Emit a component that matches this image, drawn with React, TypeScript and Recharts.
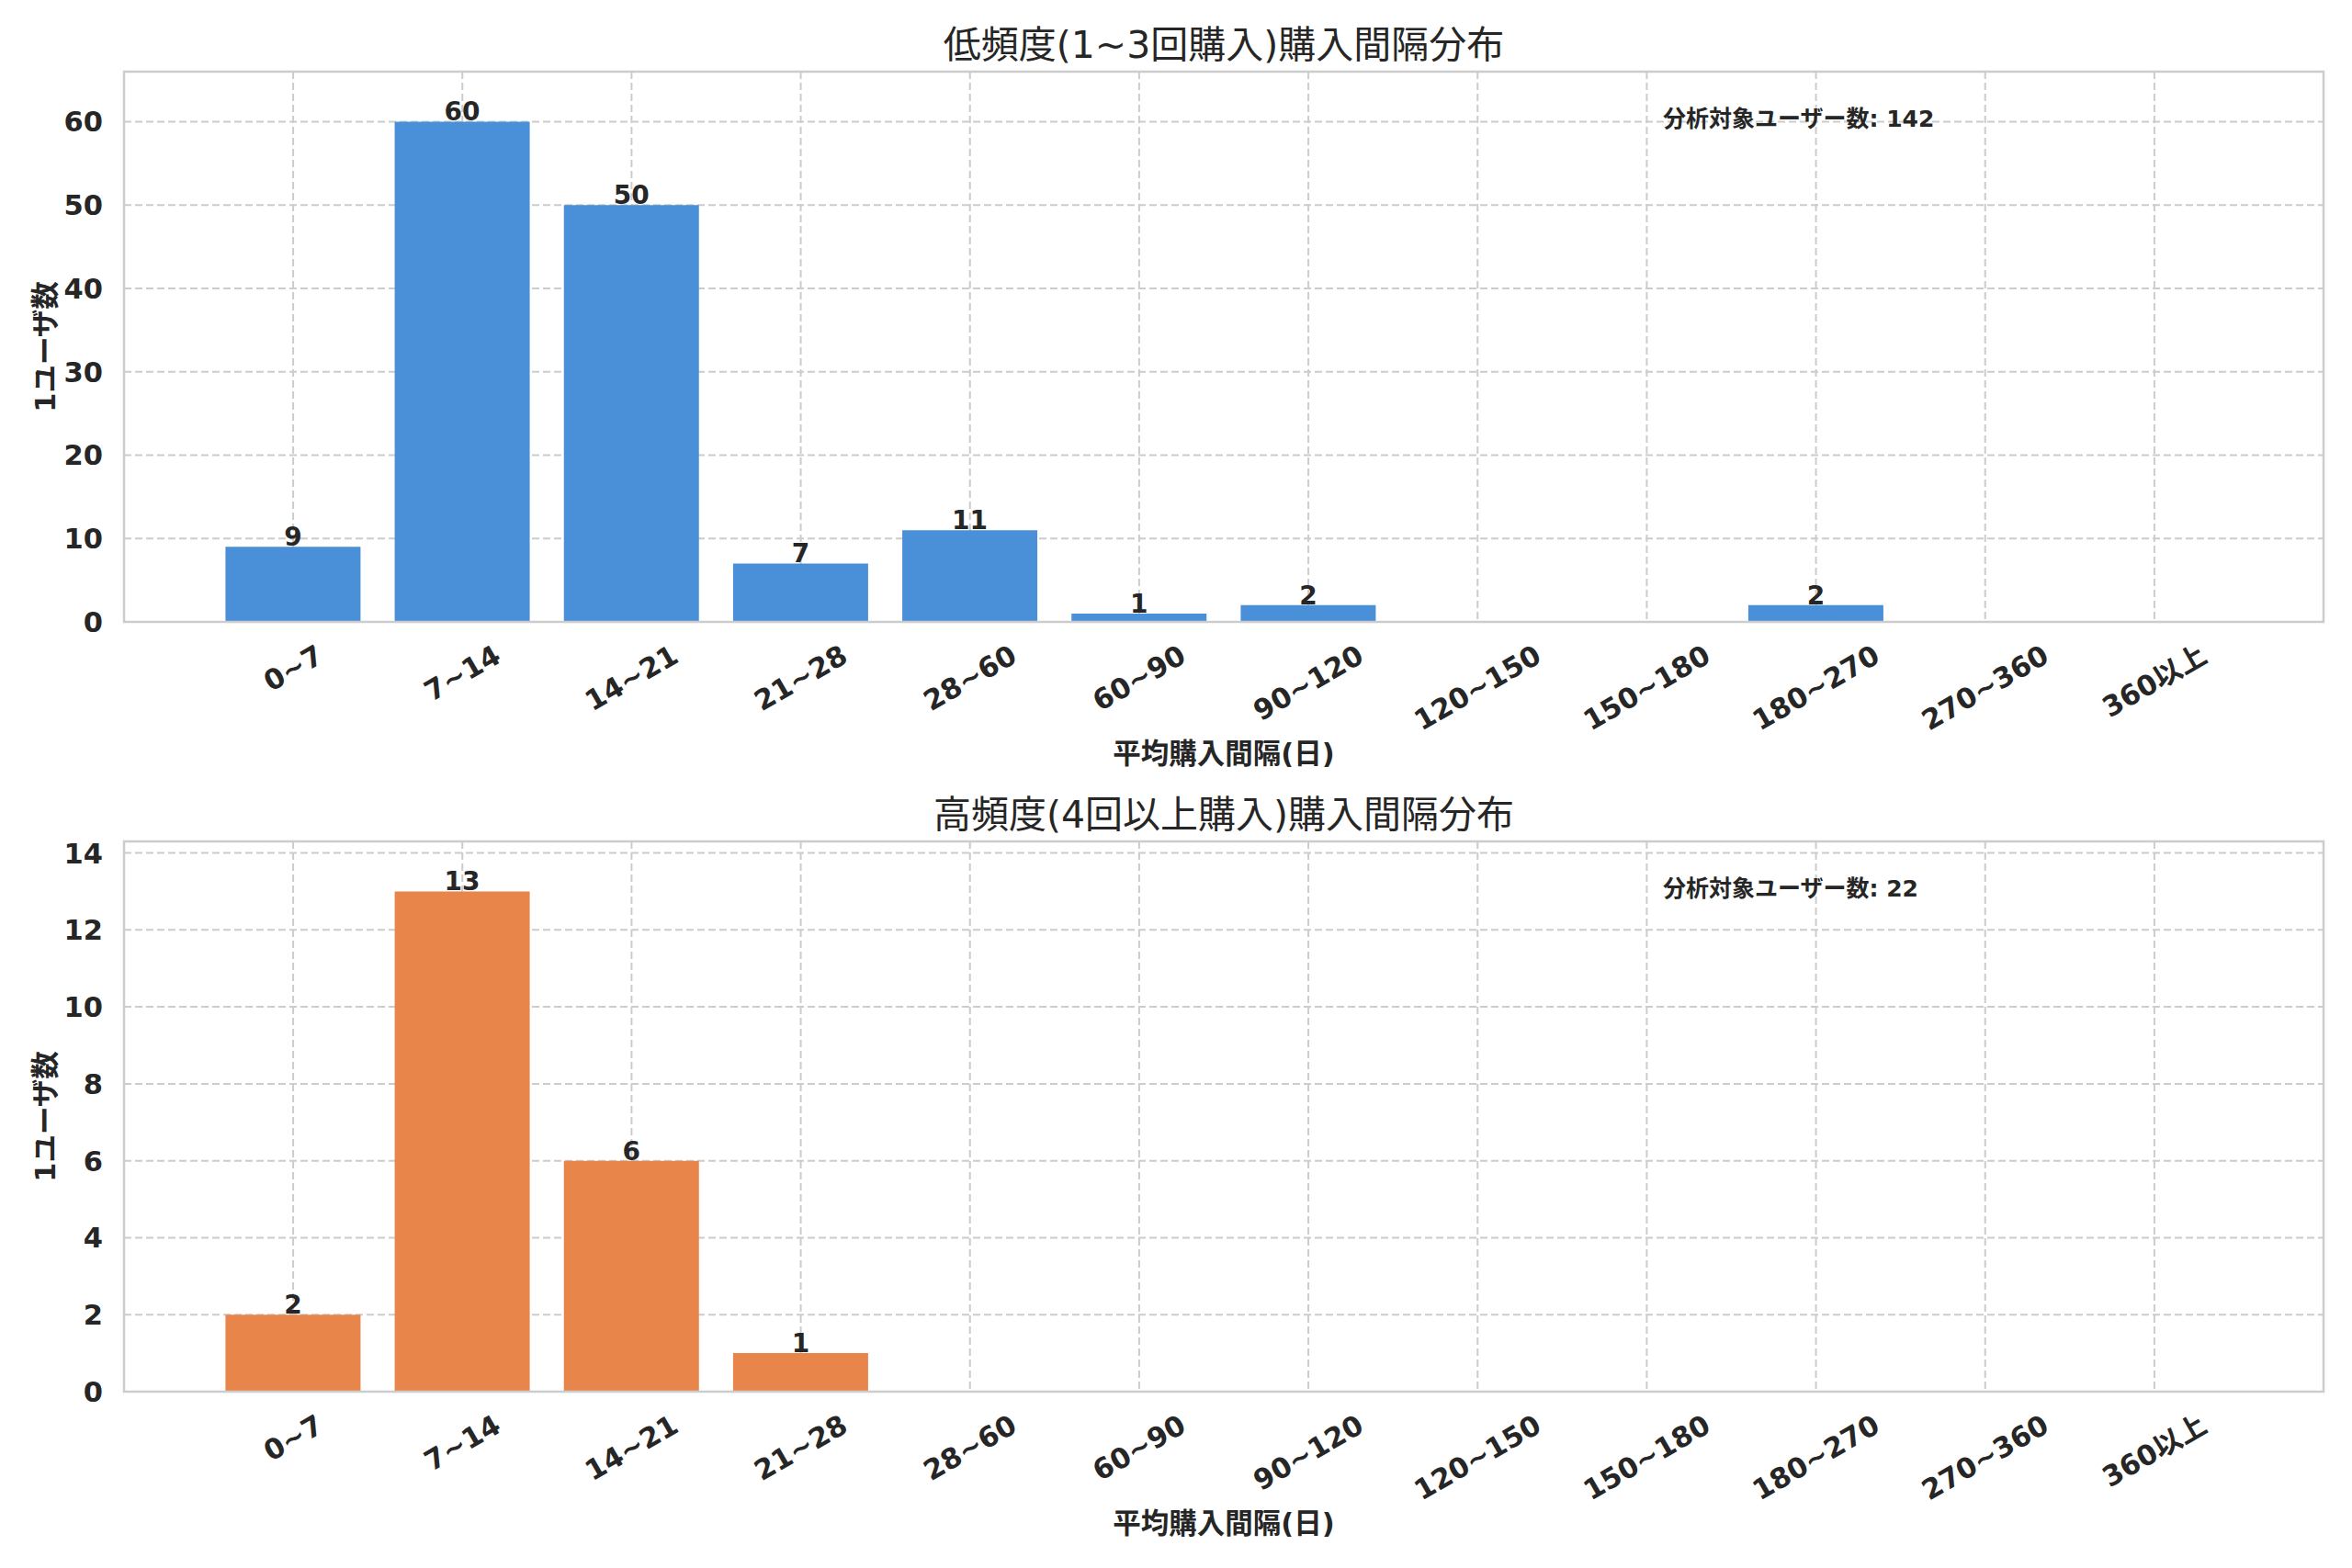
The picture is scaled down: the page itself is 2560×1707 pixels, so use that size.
import React from "react"
import { BarChart, Bar, XAxis, YAxis, CartesianGrid, LabelList } from "recharts"

const categories = [
  "0~7", "7~14", "14~21", "21~28", "28~60", "60~90",
  "90~120", "120~150", "150~180", "180~270", "270~360", "360以上",
]
const lightValues = [9, 60, 50, 7, 11, 1, 2, 0, 0, 2, 0, 0]
const heavyValues = [2, 13, 6, 1, 0, 0, 0, 0, 0, 0, 0, 0]
const lightTicks = [0, 10, 20, 30, 40, 50, 60]
const heavyTicks = [0, 2, 4, 6, 8, 10, 12, 14]
const lightTitle = "低頻度(1~3回購入)購入間隔分布"
const heavyTitle = "高頻度(4回以上購入)購入間隔分布"
const xLabel = "平均購入間隔(日)"
const yLabel = "1ユーザ数"
const totalLabel = "分析対象ユーザー数"

const FONT = "'DejaVu Sans', 'Noto Sans CJK JP', sans-serif"
const INK = "#262626"
const W = 2560
const H = 838
// plot area inside each panel
const PL = 135
const PT = 78
const PW = 2394
const PH = 599

let ctx: CanvasRenderingContext2D | null = null
function measure(s: string, size: number) {
  if (!ctx) ctx = document.createElement("canvas").getContext("2d")
  if (!ctx) return s.length * size * 0.65
  ctx.font = `bold ${size}px ${FONT}`
  return ctx.measureText(s).width
}

function XTick(props: any) {
  const { x, y, payload } = props
  const size = 30.5
  const w = measure(payload.value, size)
  const h = w * 0.5 + size * 1.17 * 0.866
  const cy = y + 18 + h / 2
  return (
    <text
      x={x}
      y={cy}
      transform={`rotate(-30 ${x} ${cy})`}
      textAnchor="middle"
      dominantBaseline="central"
      fontFamily={FONT}
      fontWeight="bold"
      fontSize={size}
      fill={INK}
    >
      {payload.value}
    </text>
  )
}

function YTick(props: any) {
  const { x, y, payload } = props
  return (
    <text x={x} y={y} dy="0.36em" textAnchor="end" fontFamily={FONT} fontWeight="bold" fontSize={30.5} fill={INK}>
      {payload.value}
    </text>
  )
}

function ValueLabel(props: any) {
  const { x, y, width, value } = props
  if (!value) return null
  return (
    <text x={x + width / 2} y={y - 1} textAnchor="middle" fontFamily={FONT} fontWeight="bold" fontSize={28} fill={INK}>
      {value}
    </text>
  )
}

function Panel({ top, title, values, ticks, yMax, color }: any) {
  const data = categories.map((c, i) => ({ name: c, value: values[i] }))
  const total = values.reduce((a: number, b: number) => a + b, 0)
  return (
    <div style={{ position: "absolute", left: 0, top, width: W, height: H }}>
      <BarChart
        width={W}
        height={H}
        data={data}
        margin={{ top: PT, right: W - PL - PW, left: 0, bottom: 0 }}
        barCategoryGap="10%"
      >
        <CartesianGrid stroke="#cccccc" strokeDasharray="8 4" strokeWidth={2} />
        <XAxis
          dataKey="name"
          height={H - PT - PH}
          padding={{ left: 92, right: 92 }}
          axisLine={false}
          tickLine={false}
          tickSize={0}
          tickMargin={0}
          interval={0}
          tick={(p: any) => <XTick {...p} />}
        />
        <YAxis
          type="number"
          width={PL}
          domain={[0, yMax]}
          ticks={ticks}
          allowDataOverflow
          axisLine={false}
          tickLine={false}
          tickSize={0}
          tickMargin={23}
          tick={(p: any) => <YTick {...p} />}
        />
        <Bar dataKey="value" fill={color} isAnimationActive={false}>
          <LabelList dataKey="value" content={(p: any) => <ValueLabel {...p} />} />
        </Bar>
      </BarChart>
      <svg width={W} height={H} style={{ position: "absolute", left: 0, top: 0, pointerEvents: "none" }}>
        <rect x={PL} y={PT} width={PW} height={PH} fill="none" stroke="#cccccc" strokeWidth={2.5} />
        <text x={PL + PW / 2} y={63} textAnchor="middle" fontFamily={FONT} fontSize={41} fill={INK}>
          {title}
        </text>
        <text x={1810} y={138} fontFamily={FONT} fontWeight="bold" fontSize={25} fill={INK}>
          {`${totalLabel}: ${total}`}
        </text>
        <text x={PL + PW / 2} y={831} textAnchor="middle" fontFamily={FONT} fontWeight="bold" fontSize={30.5} fill={INK}>
          {xLabel}
        </text>
        <text
          x={49}
          y={PT + PH / 2}
          transform={`rotate(-90 49 ${PT + PH / 2})`}
          textAnchor="middle"
          dominantBaseline="central"
          fontFamily={FONT}
          fontWeight="bold"
          fontSize={30.5}
          fill={INK}
        >
          {yLabel}
        </text>
      </svg>
    </div>
  )
}

export default function App() {
  return (
    <div style={{ position: "absolute", left: 0, top: 0, width: W, height: 1707, background: "#ffffff" }}>
      <Panel top={0} title={lightTitle} values={lightValues} ticks={lightTicks} yMax={66} color="#4a90d9" />
      <Panel top={838} title={heavyTitle} values={heavyValues} ticks={heavyTicks} yMax={14.3} color="#e8854a" />
    </div>
  )
}
